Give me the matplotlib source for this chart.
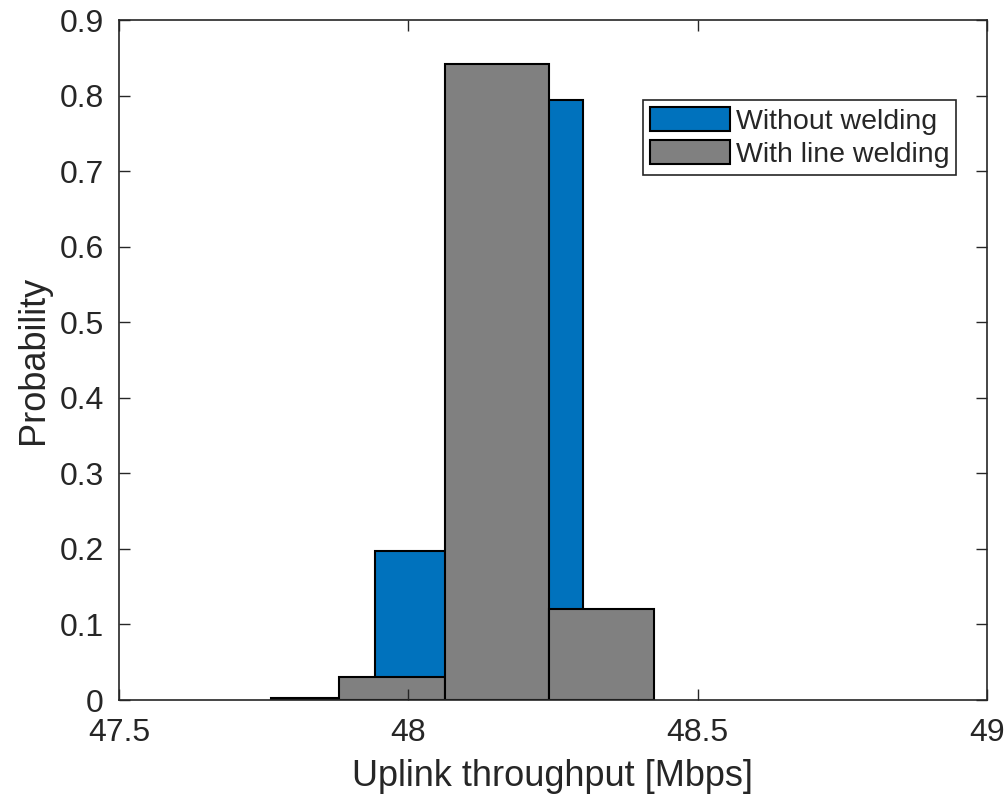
import numpy as np
import matplotlib
matplotlib.use('Agg')
import matplotlib.pyplot as plt

plt.rcParams['font.family'] = ['Liberation Sans', 'DejaVu Sans']

# Histogram bins
blue_edges = [47.942, 48.122, 48.302]
blue_prob = [0.197, 0.794]

gray_edges = [47.763, 47.880, 48.063, 48.243, 48.424]
gray_prob = [0.003, 0.030, 0.842, 0.120]

txt = '#262626'
fig = plt.figure(figsize=(10.07, 8.0), dpi=100)
ax = fig.add_axes([119 / 1007, 100 / 800, 868 / 1007, 680 / 800])

ax.bar(blue_edges[:-1], blue_prob, width=np.diff(blue_edges), align='edge',
       color='#0072BD', edgecolor='black', linewidth=1.5, label='Without welding')
ax.bar(gray_edges[:-1], gray_prob, width=np.diff(gray_edges), align='edge',
       color='#808080', edgecolor='black', linewidth=1.5, label='With line welding')

ax.set_xlim(47.5, 49)
ax.set_ylim(0, 0.9)
ax.set_xticks([47.5, 48, 48.5, 49])
ax.set_xticklabels(['47.5', '48', '48.5', '49'])
ax.set_yticks(np.arange(0, 0.91, 0.1))
ax.set_yticklabels(['0'] + ['%.1f' % v for v in np.arange(0.1, 0.91, 0.1)])

ax.tick_params(direction='in', length=8, width=1, colors=txt, labelsize=23,
               top=True, right=True)
ax.tick_params(axis='x', pad=13)
ax.tick_params(axis='y', pad=11)
for s in ax.spines.values():
    s.set_color(txt)
    s.set_linewidth(1.2)

ax.set_xlabel('Uplink throughput [Mbps]', fontsize=26, color=txt, labelpad=8)
ax.set_ylabel('Probability', fontsize=26, color=txt, labelpad=6)

leg = ax.legend(loc='upper left', bbox_to_anchor=(0.604, 0.882), fontsize=20.5,
                fancybox=False, framealpha=1, edgecolor=txt, borderpad=0.25,
                handlelength=2.8, handleheight=0.9, handletextpad=0.2,
                labelspacing=0.18, borderaxespad=0)
leg.get_frame().set_linewidth(1.2)
for t in leg.get_texts():
    t.set_color(txt)

fig.savefig('out.png', dpi=100)
